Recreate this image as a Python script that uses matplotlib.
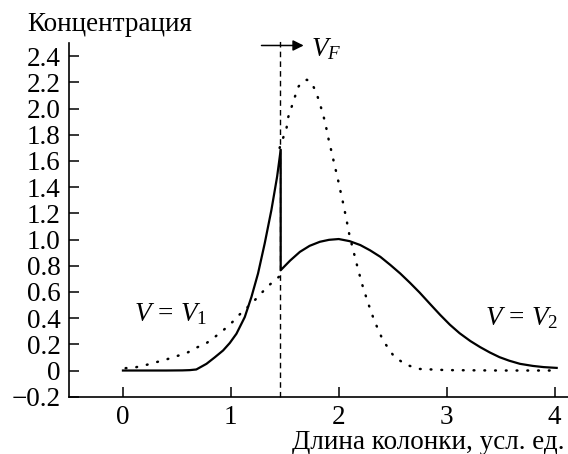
import matplotlib
matplotlib.use("Agg")
import matplotlib.pyplot as plt

plt.rcParams['font.family'] = ['Liberation Serif', 'DejaVu Serif']
plt.rcParams['mathtext.fontset'] = 'custom'
plt.rcParams['mathtext.rm'] = 'Liberation Serif'
plt.rcParams['mathtext.it'] = 'Liberation Serif:italic'

# Solid curve (jump at the front x = 1.462)
solid_x = [0.0, 0.2, 0.4, 0.55, 0.62, 0.68, 0.774, 0.85, 0.928, 0.99, 1.052, 1.129,
           1.191, 1.252, 1.314, 1.376, 1.429, 1.462, 1.462, 1.55, 1.64, 1.73, 1.825,
           1.91, 2.0, 2.1, 2.2, 2.29, 2.386, 2.48, 2.57, 2.66, 2.75, 2.85, 2.94, 3.03,
           3.12, 3.22, 3.31, 3.4, 3.49, 3.58, 3.68, 3.8, 3.9, 4.02]
solid_y = [0.0, 0.0, 0.0, 0.001, 0.003, 0.008, 0.051, 0.10, 0.153, 0.21, 0.281, 0.408,
           0.562, 0.741, 0.971, 1.226, 1.481, 1.686, 0.766, 0.84, 0.906, 0.952, 0.983,
           0.998, 1.004, 0.988, 0.958, 0.918, 0.868, 0.805, 0.741, 0.67, 0.595, 0.505,
           0.425, 0.35, 0.285, 0.225, 0.179, 0.138, 0.102, 0.075, 0.051, 0.035, 0.026,
           0.02]

# Dotted curve (left branch, right branch)
dot_left_x = [0.025, 0.12, 0.217, 0.40, 0.594, 0.68, 0.774, 0.85, 0.928, 1.005, 1.083,
              1.15, 1.215, 1.284, 1.354, 1.452]
dot_left_y = [0.018, 0.025, 0.043, 0.084, 0.135, 0.174, 0.209, 0.255, 0.306, 0.362,
              0.429, 0.48, 0.531, 0.592, 0.651, 0.72]
dot_right_x = [1.452, 1.484, 1.516, 1.53, 1.56, 1.59, 1.62, 1.66, 1.705, 1.745, 1.79,
               1.82, 1.85, 1.875, 1.895, 1.915, 1.94, 1.96, 1.985, 2.005, 2.035, 2.07,
               2.10, 2.14, 2.18, 2.22, 2.27, 2.33, 2.41, 2.51, 2.62, 2.75, 3.0, 3.5, 4.0]
dot_right_y = [1.70, 1.775, 1.85, 1.93, 2.005, 2.08, 2.16, 2.205, 2.22, 2.20, 2.128,
               2.05, 1.97, 1.89, 1.81, 1.73, 1.65, 1.57, 1.49, 1.41, 1.30, 1.16,
               1.03, 0.90, 0.77, 0.65, 0.52, 0.38, 0.23, 0.11, 0.045, 0.012, 0.003, 0.0, 0.0]

front_x = 1.452
xticks = [0, 1, 2, 3, 4]
xtick_labels = ['0', '1', '2', '3', '4']
yticks = [-0.2, 0.0, 0.2, 0.4, 0.6, 0.8, 1.0, 1.2, 1.4, 1.6, 1.8, 2.0, 2.2, 2.4]
ytick_labels = ['\u22120.2', '0', '0.2', '0.4', '0.6', '0.8', '1.0', '1.2', '1.4',
                '1.6', '1.8', '2.0', '2.2', '2.4']

FS = 19.5

fig = plt.figure(figsize=(5.68, 4.54), dpi=100)
ax = fig.add_axes([0.1215, 0.1262, 0.8785, 0.7788])

ax.plot(solid_x, solid_y, color='black', lw=1.6, solid_joinstyle='round')
ax.plot(dot_left_x, dot_left_y, color='black', lw=1.8,
        linestyle=(0, (0.3, 4.0)), dash_capstyle='round')
ax.plot(dot_right_x, dot_right_y, color='black', lw=1.8,
        linestyle=(0, (0.3, 4.0)), dash_capstyle='round')
ax.plot([front_x, front_x], [-0.2, 2.53], color='black', lw=1.0,
        linestyle=(0, (4, 3)), clip_on=False)

ax.annotate('', xy=(1.675, 2.482), xytext=(1.284, 2.482),
            arrowprops=dict(arrowstyle='-|>', color='black', lw=1.1,
                            mutation_scale=16, shrinkA=0, shrinkB=0),
            annotation_clip=False)
ax.text(1.745, 2.455, r'$V_F$', fontsize=FS, va='center', ha='left')
ax.text(0.105, 0.43, r'$V\,=\,V_1$', fontsize=FS, va='center', ha='left')
ax.text(3.355, 0.40, r'$V\,=\,V_2$', fontsize=FS, va='center', ha='left')

ax.set_xlim(-0.5, 4.125)
ax.set_ylim(-0.2, 2.5)
ax.set_xticks(xticks)
ax.set_xticklabels(xtick_labels)
ax.set_yticks(yticks)
ax.set_yticklabels(ytick_labels)
ax.tick_params(direction='in', length=7, width=1.1, labelsize=FS)
ax.tick_params(axis='y', pad=6)
ax.tick_params(axis='x', pad=6)
for s in ['top', 'right']:
    ax.spines[s].set_visible(False)
for s in ['left', 'bottom']:
    ax.spines[s].set_linewidth(1.2)

fig.text(0.048, 0.945, 'Концентрация', fontsize=FS, ha='left', va='center')
fig.text(0.993, 0.011, 'Длина колонки, усл. ед.', fontsize=FS, ha='right', va='baseline')

fig.savefig('out.png', dpi=100)
